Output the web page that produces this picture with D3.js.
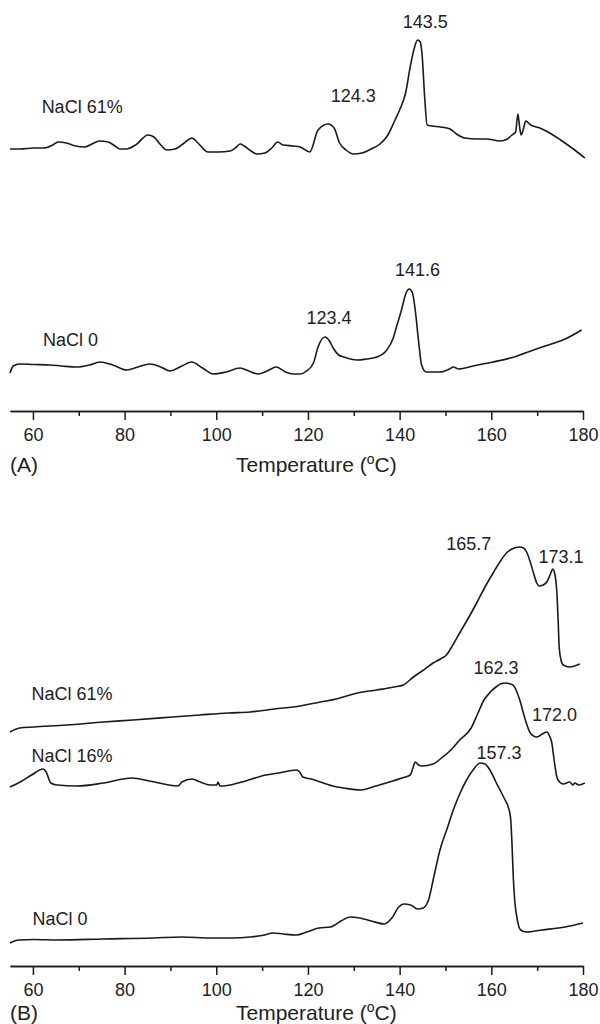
<!DOCTYPE html>
<html>

<head>
    <meta charset="UTF-8">
    <style>
        body { margin: 0; background: #fff; }
        svg text { font-family: "Liberation Sans", Arial, Helvetica, sans-serif; fill: #222; }
    </style>
    <title>DSC curves</title>
</head>

<body>
    <svg></svg>
    <script src="https://d3js.org/d3.v7.min.js"></script>

    <script>
        let width = 600, height = 1024;

        // tick labels of both temperature axes
        const majorTicks = [60, 80, 100, 120, 140, 160, 180];
        const minorTicks = [70, 90, 110, 130, 150, 170];

        // (A) NaCl 61% : [temperature, heat flow a.u.]
        const a61 = [[55, 262], [57.2, 262], [60.2, 263], [62.3, 263], [64.3, 266], [65.5, 269], [67.3, 268], [69.3, 265],
            [71.3, 264], [73.3, 268], [74.6, 270], [76.4, 269], [77.9, 265], [79.0, 262], [80.4, 262], [82.4, 266],
            [85.1, 276], [86.4, 274], [87.9, 266], [89.2, 261], [91.0, 262], [93.0, 268], [94.7, 273], [96.0, 268],
            [98.2, 259], [100.5, 259], [103.0, 260], [104.4, 264], [105.2, 267], [106.1, 265], [107.6, 260], [108.9, 257],
            [110.6, 258], [112.1, 263], [113.4, 269], [114.6, 266], [116.8, 265], [118.3, 264], [120.4, 259], [122.2, 281],
            [124.4, 287], [125.7, 283], [126.9, 268], [128.3, 261], [129.9, 257], [131.8, 258], [133.8, 262], [135.7, 267],
            [137.3, 275], [139.0, 291], [140.0, 301], [141.3, 318], [142.3, 344], [143.2, 363], [143.9, 371], [144.5, 369],
            [144.9, 356], [145.5, 311], [146.0, 286], [147.0, 285], [148.9, 284], [151.0, 282], [152.4, 277], [154.2, 273],
            [157.0, 272], [159.0, 272], [161.9, 270], [163.5, 272], [164.5, 276], [165.3, 279], [165.8, 297], [166.2, 283],
            [166.5, 276], [167.0, 282], [167.5, 290], [168.6, 286], [170.6, 283], [173.1, 277], [175.1, 271], [177.6, 263],
            [180.4, 253]];

        // (A) NaCl 0
        const a0 = [[55, 38], [55.7, 45], [57.1, 47], [60.2, 46.5], [63.7, 46], [66.3, 45], [69.5, 44], [72.3, 46],
            [74.6, 49], [77.4, 46], [80.5, 41], [82.9, 44], [85.5, 47], [87.9, 44], [89.9, 40], [92.5, 45], [94.6, 49],
            [97.0, 43], [99.3, 37], [102.1, 39], [105.2, 43], [107.1, 40], [109.2, 37], [111.1, 40], [113.1, 44],
            [115.1, 39], [116.8, 37], [118.3, 37], [119.7, 40], [121.2, 48], [122.2, 64], [123.7, 74], [124.7, 70],
            [125.5, 63], [126.7, 56], [127.8, 54], [130.7, 51], [132.8, 52], [135.0, 54], [137.2, 61], [138.6, 73],
            [139.3, 84], [140.4, 101], [141.4, 118], [142.1, 122], [142.8, 118], [143.4, 101], [144.1, 71], [144.8, 46],
            [145.8, 39], [148.8, 39], [150.9, 42], [151.7, 44], [152.9, 42], [156.0, 45], [160.4, 49], [165.0, 54],
            [169.2, 61], [173.1, 67], [176.1, 72], [179.7, 81]];

        // (B) NaCl 61%
        const b61 = [[55, 226], [57.1, 230], [60.2, 231], [67.4, 233], [75.4, 236], [81.9, 238], [90.5, 241], [96.4, 243],
            [102.6, 245], [107.4, 246], [112.6, 249], [118.3, 252], [122.7, 256], [126.2, 259], [130.8, 265], [135.0, 268],
            [138.8, 271], [140.8, 273], [143.0, 281], [144.9, 287], [147.3, 295], [148.9, 299], [150.2, 303], [151.6, 313],
            [153.1, 325], [155.0, 340], [156.8, 355], [158.5, 370], [160.4, 385], [162.0, 397], [163.3, 405], [164.5, 409],
            [166.2, 411], [167.0, 410], [167.7, 406], [168.5, 396], [169.2, 385], [169.9, 375], [170.5, 372], [171.3, 373],
            [172.1, 376], [172.9, 384], [173.4, 389], [173.8, 385], [174.3, 365], [174.6, 335], [174.8, 311], [175.2, 298],
            [175.7, 293], [177.1, 291], [179.3, 294]];

        // (B) NaCl 16%
        const b16 = [[55, 171], [57.2, 176], [59.7, 183], [62.2, 189], [62.9, 186], [63.9, 175], [65.3, 173], [69.6, 172],
            [75.4, 175], [81.6, 180], [85.4, 177], [91.7, 172], [92.5, 176], [94.7, 179], [96.5, 176], [98.6, 173],
            [100.1, 173], [100.4, 176], [100.8, 172], [101.4, 172], [105.6, 176], [110.8, 183], [113.6, 185], [117.5, 188],
            [118.2, 186], [118.9, 181], [120.7, 179], [125.4, 172], [127.8, 170], [131.6, 168], [134.8, 172], [140.5, 180],
            [142.3, 183], [142.9, 190], [143.4, 196], [144.1, 193], [144.9, 192], [147.3, 194], [149.4, 201], [151.4, 209],
            [153.1, 218], [155.6, 230], [157.0, 244], [158.4, 258], [159.8, 266], [161.0, 271], [162.0, 274], [163.0, 275],
            [164.7, 273], [165.5, 267], [166.2, 258], [167.3, 240], [168.5, 225], [169.2, 222], [169.9, 221], [171.1, 224],
            [172.1, 226], [172.7, 222], [173.2, 215], [173.7, 198], [174.3, 181], [174.9, 176], [175.7, 174], [177.1, 176],
            [177.8, 173], [178.2, 175], [179.1, 173], [180.4, 175]];

        // (B) NaCl 0
        const b0 = [[55, 15], [56.0, 17], [57.0, 18], [60.2, 18.5], [65.4, 18], [75.4, 19], [86.3, 20], [92.5, 21],
            [98.9, 20], [103.6, 20], [107.4, 21], [110.6, 23], [112.3, 25], [114.6, 24], [117.4, 23], [119.7, 26],
            [122.4, 30], [124.9, 31], [127.2, 37], [129.2, 41], [131.3, 40], [133.8, 37], [136.7, 34], [138.3, 40],
            [139.8, 51], [140.9, 54], [142.4, 53], [143.9, 49], [145.1, 50], [146.3, 58], [147.4, 80], [148.8, 108],
            [150.4, 130], [151.7, 148], [153.2, 165], [154.6, 178], [156.0, 188], [157.6, 195], [158.6, 194], [159.7, 188],
            [161.0, 176], [161.9, 168], [163.0, 158], [163.7, 151], [164.2, 140], [164.5, 115], [164.8, 80], [165.1, 58],
            [165.6, 40], [166.4, 28], [167.6, 26], [171.1, 28], [176.1, 31], [180.0, 35]];

        // labels placed in data coordinates [text, temperature, value, anchor]
        const notesA = [["NaCl 61%", 61.9, 298, "start"], ["143.5", 145.6, 383, "middle"], ["124.3", 129.9, 309, "middle"],
            ["NaCl 0", 62.2, 65, "start"], ["123.4", 124.6, 87, "middle"], ["141.6", 143.9, 135, "middle"]];
        const notesB = [["165.7", 155.1, 408, "middle"], ["173.1", 175.2, 395, "middle"], ["NaCl 61%", 59.7, 258, "start"],
            ["162.3", 161.0, 284, "middle"], ["172.0", 173.8, 237, "middle"], ["NaCl 16%", 59.7, 196, "start"],
            ["157.3", 161.7, 199, "middle"], ["NaCl 0", 59.9, 33, "start"]];

        let svg = d3.select("svg")
            .attr("width", width)
            .attr("height", height);

        let x = d3.scaleLinear().domain([55, 180]).range([10, 583]);

        function panel(axisY, baseY, top, titleY, curves, notes, tag) {
            let y = d3.scaleLinear().domain([0, baseY - top]).range([baseY, top]);
            let g = svg.append("g");

            let line = d3.line()
                .x(d => x(d[0]))
                .y(d => y(d[1]))
                .curve(d3.curveMonotoneX);

            g.selectAll("path.curve")
                .data(curves)
                .enter()
                .append("path")
                .attr("class", "curve")
                .attr("d", line)
                .attr("fill", "none")
                .attr("stroke", "#1a1a1a")
                .attr("stroke-width", 1.6);

            g.selectAll("text.note")
                .data(notes)
                .enter()
                .append("text")
                .attr("class", "note")
                .attr("x", d => x(d[1]))
                .attr("y", d => y(d[2]))
                .attr("text-anchor", d => d[3])
                .style("font-size", "18px")
                .text(d => d[0]);

            // minor ticks
            g.append("g")
                .attr("transform", "translate(0," + axisY + ")")
                .call(d3.axisBottom(x).tickValues(minorTicks).tickSize(5).tickSizeOuter(0).tickFormat(""))
                .call(a => a.selectAll("line, path").attr("stroke", "#1a1a1a").attr("stroke-width", 1.5));

            // major ticks and labels
            g.append("g")
                .attr("transform", "translate(0," + axisY + ")")
                .call(d3.axisBottom(x).tickValues(majorTicks).tickSize(9).tickSizeOuter(0).tickPadding(8))
                .call(a => a.selectAll("line, path").attr("stroke", "#1a1a1a").attr("stroke-width", 1.5))
                .call(a => a.selectAll("text").style("font-size", "18px").style("font-family", "'Liberation Sans', Arial, sans-serif").attr("fill", "#222"));

            g.append("text")
                .attr("x", 10)
                .attr("y", titleY)
                .style("font-size", "21px")
                .text(tag);

            let title = g.append("text")
                .attr("x", 236)
                .attr("y", titleY)
                .style("font-size", "21px")
                .text("Temperature (");
            title.append("tspan").attr("dy", -8).style("font-size", "14px").text("o");
            title.append("tspan").attr("dy", 8).text("C)");
        }

        panel(411, 411, 11, 472, [a61, a0], notesA, "(A)");
        panel(966, 958, 518, 1020, [b61, b16, b0], notesB, "(B)");
    </script>
</body>

</html>
